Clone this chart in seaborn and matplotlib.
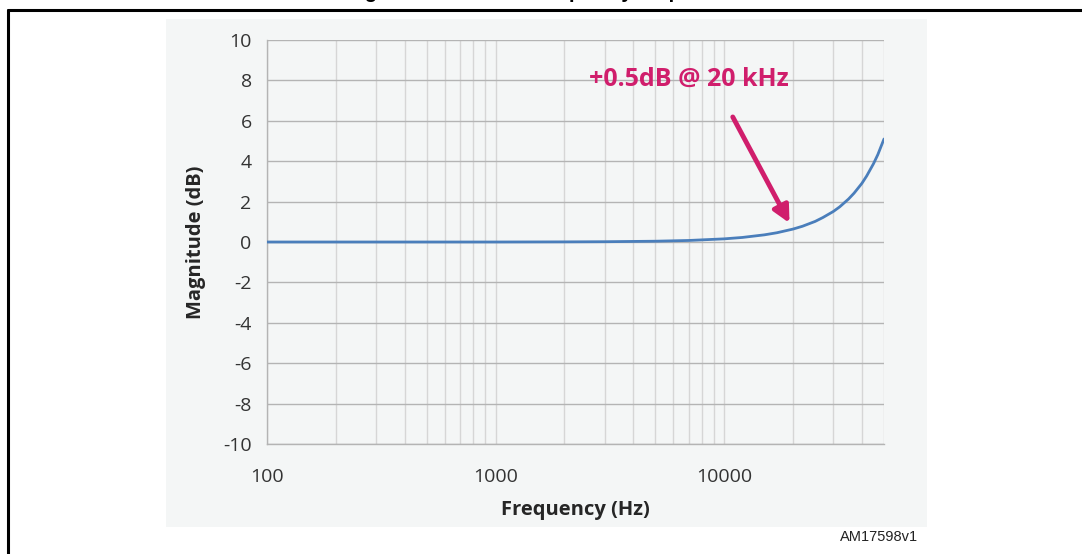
import numpy as np
import pandas as pd
import seaborn as sns
import matplotlib.pyplot as plt
from matplotlib.lines import Line2D
from matplotlib.ticker import FixedLocator, NullFormatter, FixedFormatter

# ---- data ----
freq_hz = [100, 200, 500, 1000, 2000, 3000, 5000, 7000, 10000, 12000, 15000,
           17000, 20000, 22000, 25000, 27000, 30000, 32000, 35000, 37000,
           40000, 42000, 45000, 47000, 50000]
magnitude_db = [0.0, 0.0, 0.0, 0.0, 0.006, 0.014, 0.039, 0.076, 0.156, 0.225,
                0.355, 0.458, 0.64, 0.78, 1.02, 1.21, 1.51, 1.74, 2.13, 2.42,
                2.9, 3.27, 3.88, 4.33, 5.1]
x_major_ticks = [100, 1000, 10000]
x_tick_labels = ["100", "1000", "10000"]
y_ticks = [-10, -8, -6, -4, -2, 0, 2, 4, 6, 8, 10]
annotation_text = "+0.5dB @ 20 kHz"
title_text = "Figure 6. PDM filter frequency response"
figure_code = "AM17598v1"

sns.set_style("white")
plt.rcParams['font.family'] = ['Open Sans', 'DejaVu Sans']
plt.rcParams['axes.unicode_minus'] = False

W, H = 1082, 554
fig = plt.figure(figsize=(W / 100, H / 100), dpi=100)
fig.patch.set_facecolor("white")

# light panel behind the chart (its own background axes)
bg = fig.add_axes([166 / W, 1 - 527 / H, (927 - 166) / W, (527 - 19) / H], zorder=-10)
bg.set_facecolor("#f4f6f6")
bg.set_xticks([])
bg.set_yticks([])
for s in bg.spines.values():
    s.set_visible(False)

# frame lines
fig.lines.append(Line2D([8 / W, 8 / W], [0, 1 - 10 / H], transform=fig.transFigure,
                        color="black", lw=2.2))
fig.lines.append(Line2D([8 / W, 1], [1 - 10 / H, 1 - 10 / H], transform=fig.transFigure,
                        color="black", lw=2.2))

# title, cut off by the top edge as in the reference
fig.text(537 / W, 1 + 2.5 / H, title_text, ha="center", va="baseline",
         fontsize=14.5, fontweight="bold", family=["Liberation Sans"], color="black")

ax = fig.add_axes([267 / W, 1 - 444 / H, (884 - 267) / W, (444 - 40) / H], zorder=1)
ax.set_facecolor("none")

df = pd.DataFrame({"Frequency (Hz)": freq_hz, "Magnitude (dB)": magnitude_db})
sns.lineplot(data=df, x="Frequency (Hz)", y="Magnitude (dB)", ax=ax,
             color="#4a7ebb", lw=2.0, zorder=5)

ax.set_xscale("log")
ax.set_xlim(100, 50000)
ax.set_ylim(-10, 10)

ax.xaxis.set_major_locator(FixedLocator(x_major_ticks))
ax.xaxis.set_major_formatter(FixedFormatter(x_tick_labels))
minor = [m * d for d in [100, 1000, 10000] for m in range(2, 10) if m * d <= 50000]
ax.xaxis.set_minor_locator(FixedLocator(minor))
ax.xaxis.set_minor_formatter(NullFormatter())
ax.yaxis.set_major_locator(FixedLocator(y_ticks))

ax.grid(True, which="major", axis="y", color="#b4b4b4", lw=1.0)
ax.grid(True, which="both", axis="x", color="#d6d6d6", lw=1.0)
ax.set_axisbelow(True)

for s in ["top", "right"]:
    ax.spines[s].set_visible(False)
ax.spines["left"].set_color("#b4b4b4")
ax.spines["bottom"].set_color("#b4b4b4")
ax.spines["left"].set_linewidth(1.0)
ax.spines["bottom"].set_linewidth(1.0)

ax.tick_params(axis="y", which="major", length=7, width=1.0, color="#b4b4b4",
               labelsize=14, labelcolor="#333333", pad=4)
ax.tick_params(axis="x", which="both", length=0, labelsize=14,
               labelcolor="#333333", pad=17)

ax.set_xlabel("Frequency (Hz)", fontsize=14.5, fontweight="bold", labelpad=10)
ax.set_ylabel("Magnitude (dB)", fontsize=14.5, fontweight="bold", labelpad=12)

# annotation
ax.annotate("", xy=(19300, 0.94), xytext=(10900, 6.19),
            arrowprops=dict(arrowstyle="-|>,head_length=1.0,head_width=0.5",
                            color="#d01e6c", lw=3.5, shrinkA=0, shrinkB=0),
            zorder=6)
ax.text(6980, 8.07, annotation_text, ha="center", va="center", fontsize=18,
        fontweight="bold", color="#d01e6c")

fig.text(918 / W, 1 - 537 / H, figure_code, ha="right", va="center",
         fontsize=10.5, family=["Liberation Sans"], color="#222222")

fig.savefig("out.png", dpi=100)
